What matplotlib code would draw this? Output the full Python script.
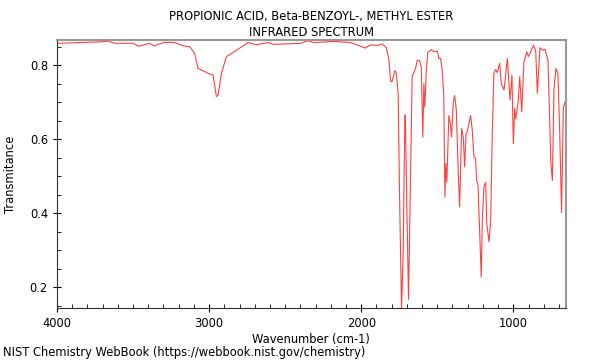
import matplotlib
matplotlib.use("Agg")
import matplotlib.pyplot as plt
from matplotlib.ticker import MultipleLocator

# IR spectrum (wavenumber in cm-1, transmittance)
wavenumber = [
    4000, 3709, 3666, 3621, 3500, 3463, 3391, 3362, 3292, 3226, 3171, 3128,
    3095, 3073, 3051, 3007, 2974, 2952, 2941, 2919, 2886, 2832, 2744, 2689,
    2612, 2579, 2393, 2355, 2312, 2180, 2070, 1972, 1939, 1895, 1862, 1834,
    1818, 1807, 1797, 1779, 1770, 1757, 1748, 1735, 1724, 1713, 1710, 1700,
    1689, 1678, 1665, 1654, 1643, 1632, 1617, 1605, 1595, 1588, 1582, 1572,
    1562, 1539, 1522, 1500, 1489, 1478, 1467, 1457, 1450, 1443, 1437, 1424,
    1413, 1406, 1395, 1386, 1375, 1364, 1353, 1340, 1329, 1320, 1311, 1303,
    1292, 1281, 1270, 1259, 1248, 1241, 1232, 1222, 1211, 1204, 1193, 1182,
    1175, 1160, 1149, 1138, 1128, 1116, 1105, 1090, 1079, 1061, 1039, 1022,
    1009, 1000, 991, 985, 969, 958, 945, 930, 912, 901, 890, 868, 853, 842,
    825, 809, 792, 772, 759, 753, 743, 733, 720, 707, 695, 683, 671, 660, 655,
]
transmittance = [
    0.859, 0.863, 0.865, 0.859, 0.859, 0.851, 0.859, 0.852, 0.862, 0.861, 0.852, 0.850,
    0.832, 0.791, 0.787, 0.778, 0.773, 0.715, 0.719, 0.778, 0.823, 0.837, 0.861, 0.855,
    0.861, 0.856, 0.859, 0.866, 0.861, 0.864, 0.861, 0.846, 0.855, 0.853, 0.857, 0.846,
    0.815, 0.756, 0.756, 0.785, 0.780, 0.724, 0.450, 0.140, 0.300, 0.664, 0.666, 0.420,
    0.168, 0.450, 0.770, 0.780, 0.791, 0.813, 0.813, 0.795, 0.606, 0.750, 0.687, 0.786,
    0.834, 0.842, 0.836, 0.838, 0.818, 0.818, 0.786, 0.715, 0.444, 0.534, 0.485, 0.664,
    0.640, 0.606, 0.697, 0.718, 0.680, 0.534, 0.417, 0.629, 0.606, 0.525, 0.615, 0.620,
    0.642, 0.664, 0.625, 0.552, 0.548, 0.489, 0.475, 0.360, 0.228, 0.381, 0.471, 0.484,
    0.375, 0.323, 0.380, 0.620, 0.778, 0.788, 0.780, 0.805, 0.750, 0.733, 0.818, 0.706,
    0.773, 0.588, 0.683, 0.655, 0.697, 0.769, 0.674, 0.809, 0.836, 0.823, 0.832, 0.854, 0.840, 0.724,
    0.847, 0.841, 0.843, 0.813, 0.615, 0.534, 0.489, 0.733, 0.791, 0.778, 0.620, 0.402, 0.687, 0.701, 0.683,
]

title = "PROPIONIC ACID, Beta-BENZOYL-, METHYL ESTER\nINFRARED SPECTRUM"
footer = "NIST Chemistry WebBook (https://webbook.nist.gov/chemistry)"
fs = 8.3

fig = plt.figure(figsize=(6, 3.6), dpi=100)
ax = fig.add_axes([0.095, 0.145, 0.848, 0.744])
ax.plot(wavenumber, transmittance, color="#ff2020", linewidth=0.8, alpha=0.85)

ax.set_xlim(4000, 655)
ax.set_ylim(0.145, 0.868)
ax.xaxis.set_major_locator(MultipleLocator(1000))
ax.xaxis.set_minor_locator(MultipleLocator(100))
ax.yaxis.set_major_locator(MultipleLocator(0.2))
ax.yaxis.set_minor_locator(MultipleLocator(0.05))
ax.tick_params(which="major", direction="inout", length=6, labelsize=fs)
ax.tick_params(which="minor", direction="in", length=3)
ax.tick_params(top=False, right=False)

for s in ("top", "right"):
    ax.spines[s].set_color("#999999")
    ax.spines[s].set_linewidth(1.5)
for s in ("left", "bottom"):
    ax.spines[s].set_color("#333333")

ax.set_xlabel("Wavenumber (cm-1)", fontsize=fs, labelpad=2)
ax.set_ylabel("Transmitance", fontsize=fs)
ax.yaxis.set_label_coords(-0.078, 0.5)
ax.set_title(title, fontsize=fs, linespacing=1.3, pad=3)
fig.text(0.005, 0.01, footer, fontsize=fs)

fig.savefig("out.png", dpi=100)
